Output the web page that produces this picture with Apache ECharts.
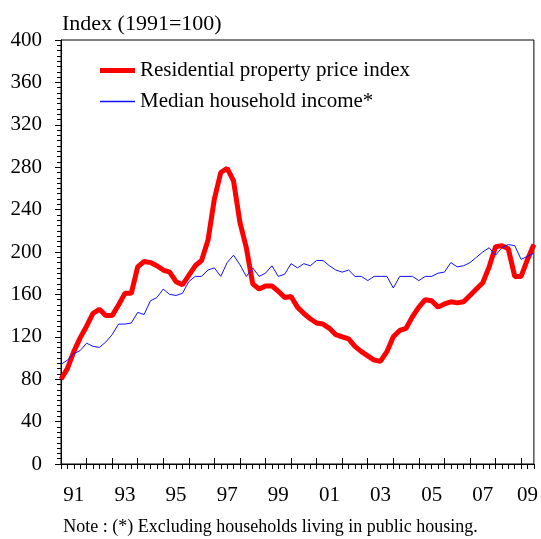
<!DOCTYPE html>
<html>
<head>
<meta charset="utf-8">
<script src="https://cdn.jsdelivr.net/npm/echarts@6/dist/echarts.min.js"></script>
<style>
  html, body { margin: 0; padding: 0; background: #fff; }
  #chart { width: 541px; height: 539px; }
</style>
</head>
<body>
<div id="chart"></div>
<script>
// quarterly points, 1991Q1 .. 2009Q3
const quarters = [];
for (let y = 1991; y <= 2009; y++) {
  for (let q = 1; q <= 4; q++) {
    if (y === 2009 && q > 3) break;
    quarters.push(y + 'Q' + q);
  }
}

// year labels shown under the axis (odd years, centred on the year)
const yearLabels = ['91', '93', '95', '97', '99', '01', '03', '05', '07', '09'];
const yearLabelAt = ['1991Q3', '1993Q3', '1995Q3', '1997Q3', '1999Q3', '2001Q3', '2003Q3', '2005Q3', '2007Q3', '2009Q2'];

const yTicks = [0, 40, 80, 120, 160, 200, 240, 280, 320, 360, 400];

// Residential property price index
const propertyIndex = [
  80, 90, 106, 119, 130, 142, 146, 140, 140, 150,
  161, 161, 186, 191, 190, 187, 183, 181, 172, 169,
  178, 187, 192, 211, 250, 275, 279, 267, 228, 204,
  170, 165, 168, 168, 163, 157, 158, 148, 142, 137,
  133, 132, 128, 122, 120, 118, 111, 106, 102, 98,
  97, 106, 120, 126, 128, 139, 148, 155, 154, 148,
  151, 153, 152, 153, 159, 165, 171, 186, 205, 206,
  203, 177, 177, 193, 207
];

// Median household income*
const incomeIndex = [
  94, 98, 104, 107, 114, 111, 110, 115, 122, 132,
  132, 133, 143, 141, 154, 157, 165, 160, 159, 161,
  172, 177, 177, 183, 185, 177, 190, 197, 188, 177,
  185, 177, 180, 187, 177, 179, 189, 185, 189, 187,
  192, 192, 187, 183, 181, 183, 177, 177, 173, 177,
  177, 177, 166, 177, 177, 177, 173, 177, 177, 180,
  181, 190, 186, 187, 190, 195, 200, 204, 197, 204,
  207, 206, 193, 196, 199
];

const serif = '"Liberation Serif", "Times New Roman", serif';
const chart = echarts.init(document.getElementById('chart'));

chart.setOption({
  animation: false,
  backgroundColor: '#fff',
  title: {
    text: 'Index (1991=100)',
    left: 57,
    top: 8,
    textStyle: { fontFamily: serif, fontSize: 22, fontWeight: 'normal', color: '#000' }
  },
  graphic: [{
    type: 'text',
    left: 'center',
    top: 518,
    style: {
      text: 'Note : (*) Excluding households living in public housing.',
      font: '18px ' + serif,
      fill: '#000'
    }
  }],
  legend: [
    {
      data: ['Residential property price index'],
      left: 100,
      top: 60,
      padding: 0,
      icon: 'rect',
      itemWidth: 35,
      itemHeight: 5,
      textStyle: { fontFamily: serif, fontSize: 21, color: '#000' }
    },
    {
      data: ['Median household income*'],
      left: 100,
      top: 91,
      padding: 0,
      icon: 'rect',
      itemWidth: 35,
      itemHeight: 1.5,
      textStyle: { fontFamily: serif, fontSize: 21, color: '#000' }
    }
  ],
  grid: {
    left: 61, right: 7, top: 40, bottom: 75,
    show: true, borderColor: '#000', borderWidth: 1
  },
  xAxis: [
    {
      type: 'category',
      data: quarters,
      boundaryGap: false,
      axisLine: { lineStyle: { color: '#000', width: 1 } },
      axisTick: { show: true, interval: 0, length: 5, lineStyle: { color: '#000' } },
      axisLabel: {
        interval: (idx, val) => yearLabelAt.indexOf(val) >= 0,
        formatter: (val) => yearLabels[yearLabelAt.indexOf(val)],
        fontFamily: serif,
        fontSize: 21,
        color: '#000',
        margin: 21
      },
      splitLine: { show: false }
    },
    {
      // year boundary ticks pointing up into the plot
      type: 'category',
      data: quarters,
      boundaryGap: false,
      position: 'bottom',
      axisLine: { show: false },
      axisTick: { show: true, inside: true, length: 6, interval: (idx) => idx % 4 === 0, lineStyle: { color: '#000' } },
      axisLabel: { show: false },
      splitLine: { show: false }
    }
  ],
  yAxis: {
    type: 'value',
    min: yTicks[0],
    max: yTicks[yTicks.length - 1],
    interval: 40,
    axisLine: { show: true, lineStyle: { color: '#000', width: 1 } },
    axisTick: { show: true, length: 6, lineStyle: { color: '#000' } },
    minorTick: { show: true, splitNumber: 8, length: 4, lineStyle: { color: '#000' } },
    splitLine: { show: false },
    axisLabel: { fontFamily: serif, fontSize: 21, color: '#000', margin: 19, padding: [4, 0, 0, 0] }
  },
  series: [
    {
      name: 'Residential property price index',
      type: 'line',
      data: propertyIndex,
      symbol: 'none',
      lineStyle: { color: '#ff0000', width: 5 },
      itemStyle: { color: '#ff0000' }
    },
    {
      name: 'Median household income*',
      type: 'line',
      data: incomeIndex,
      symbol: 'none',
      lineStyle: { color: '#1010ff', width: 1 },
      itemStyle: { color: '#1010ff' }
    }
  ]
});
</script>
</body>
</html>
